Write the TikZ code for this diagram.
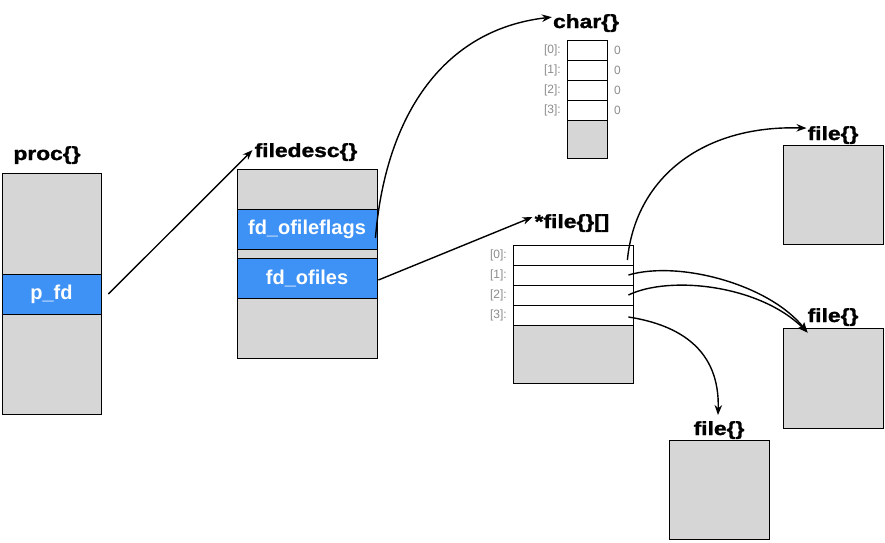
\documentclass[tikz,border=0pt]{standalone}
\usepackage{fontspec}
\setmainfont{Liberation Sans}
\newfontfamily\titlefont[FakeStretch=1.2,FakeBold=1.5]{Liberation Sans Bold}
\usetikzlibrary{arrows.meta}
\definecolor{boxgray}{RGB}{214,214,214}
\definecolor{bandblue}{RGB}{62,145,245}
\definecolor{lblgray}{RGB}{140,140,140}
\tikzset{
  graybox/.style={draw=black, line width=0.9pt, fill=boxgray, inner sep=0pt, minimum width=#1},
  band/.style={draw=black, line width=0.9pt, fill=bandblue, inner sep=0pt, text=white, font=\bfseries\fontsize{20}{22}\selectfont},
  cell/.style={draw=black, line width=0.8pt, fill=white, inner sep=0pt},
  ttl/.style={anchor=base, inner sep=0pt, font=\titlefont\fontsize{19}{22}\selectfont},
  idx/.style={anchor=east, inner sep=0pt, text=lblgray, font=\fontsize{12}{14}\selectfont},
  val/.style={anchor=west, inner sep=0pt, text=lblgray, font=\fontsize{12}{14}\selectfont},
  arr/.style={line width=1.4pt, -{Stealth[length=10pt,width=7.5pt]}}
}
\begin{document}
\begin{tikzpicture}[x=1pt,y=-1pt]
\useasboundingbox (0,0) rectangle (885,542);
% proc
\node[graybox=99, minimum height=241] (proc) at (51.5,293.5) {};
\node[band, minimum width=99, minimum height=40] (pfd) at (51.5,294) {p\_fd};
\node[ttl] (proct) at (47,160) {proc\{\}};
% filedesc
\node[graybox=140, minimum height=189] (fd) at (307,263.5) {};
\node[band, minimum width=140, minimum height=40] (flags) at (307,229) {fd\_ofileflags};
\node[band, minimum width=140, minimum height=40] (ofiles) at (307,278) {fd\_ofiles};
\node[ttl] (fdt) at (306,157) {filedesc\{\}};
% char
\node[graybox=40, minimum height=118] (chr) at (587,99) {};
\foreach \i/\y in {0/50,1/70,2/90,3/110}{
  \node[cell, minimum width=40, minimum height=20] (c\i) at (587,\y) {};
  \node[idx] (ci\i) at (561,\y) {[\i]:};
  \node[val] (cv\i) at (614,\y) {0};
}
\node[ttl] (chrt) at (586,28) {char\{\}};
% file pointer array
\node[graybox=120, minimum height=138] (fa) at (573,314) {};
\foreach \i/\y in {0/255,1/275,2/295,3/315}{
  \node[cell, minimum width=120, minimum height=20] (f\i) at (573,\y) {};
  \node[idx] (fi\i) at (507,\y) {[\i]:};
}
\node[ttl] (fat) at (572,228) {*file\{\}[]};
% file boxes
\node[graybox=100, minimum height=99] (fileA) at (833,194.5) {};
\node[ttl] (fileAt) at (833,140) {file\{\}};
\node[graybox=100, minimum height=100] (fileB) at (833,378) {};
\node[ttl] (fileBt) at (833,322) {file\{\}};
\node[graybox=100, minimum height=99] (fileC) at (719,489.5) {};
\node[ttl] (fileCt) at (719,435) {file\{\}};
% arrows
\draw[arr] ([xshift=7pt]pfd.east) -- ([xshift=-2pt,yshift=2pt]fdt.west);
\draw[arr] ([xshift=-2pt,yshift=-9pt]flags.east) .. controls (385,120) and (440,30) .. ([xshift=-1pt,yshift=6pt]chrt.west);
\draw[arr] ([xshift=1pt,yshift=-2pt]ofiles.east) -- ([xshift=-2pt,yshift=6pt]fat.west);
\draw[arr] ([xshift=-6pt,yshift=-5pt]f0.east) .. controls (635,180) and (700,125) .. ([xshift=-1pt,yshift=7pt]fileAt.west);
\draw[arr] ([xshift=-5pt]f1.east) .. controls (680,260) and (770,285) .. ([xshift=25pt,yshift=-5pt]fileB.north west);
\draw[arr] ([xshift=-5pt]f2.east) .. controls (670,275) and (760,285) .. ([xshift=25pt,yshift=-5pt]fileB.north west);
\draw[arr] ([xshift=-5pt,yshift=-2pt]f3.east) .. controls (680,325) and (720,350) .. ([xshift=-1pt,yshift=6pt]fileCt.north);
\end{tikzpicture}
\end{document}
